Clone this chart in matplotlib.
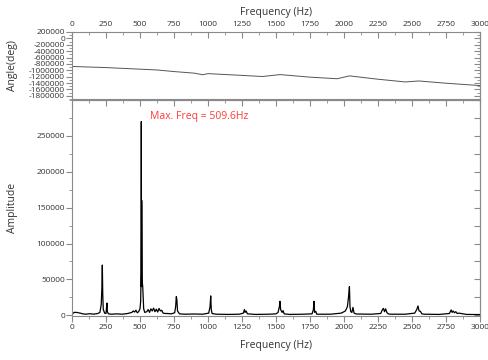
import matplotlib
matplotlib.use("Agg")
import matplotlib.pyplot as plt
from matplotlib.ticker import MultipleLocator, FuncFormatter, FixedLocator

# ---- phase (top panel) ----
phase_freq = [0, 250, 500, 625, 750, 900, 960, 1000, 1250, 1400, 1530, 1750, 1950, 2040, 2250, 2450, 2550, 2750, 3000]
phase_deg = [-880000, -915000, -965000, -990000, -1040000, -1090000, -1140000, -1105000, -1160000, -1195000,
             -1135000, -1215000, -1265000, -1175000, -1280000, -1365000, -1335000, -1405000, -1480000]

# ---- amplitude spectrum (bottom panel) ----
amp_freq = [0, 8, 20, 40, 60, 80, 100, 130, 160, 190, 205, 215, 220, 223, 226, 230, 240, 250, 255, 257, 260, 268,
            290, 330, 370, 410, 440, 450, 460, 470, 480, 490, 500, 505, 508, 509.6, 511, 512.5, 515, 520, 527, 535,
            550, 560, 570, 580, 590, 600, 610, 620, 630, 640, 650, 660, 670, 685,
            700, 730, 755, 762, 767, 771, 776, 790, 830, 900, 960, 1005, 1015, 1020, 1024, 1030, 1060, 1150, 1230,
            1260, 1268, 1273, 1280, 1290, 1350, 1450, 1500, 1515, 1525, 1529, 1534, 1545, 1552, 1560, 1600, 1700,
            1765, 1775, 1779, 1784, 1792, 1800, 1900, 1980, 2010, 2025, 2033, 2040, 2044, 2050, 2058, 2066, 2074,
            2090, 2200, 2270, 2283, 2290, 2298, 2306, 2315, 2325, 2340, 2450, 2520, 2535, 2544, 2552, 2562, 2572,
            2590, 2700, 2775, 2788, 2795, 2803, 2812, 2822, 2832, 2845, 2900, 3000]
amp_val = [500, 3000, 4200, 3800, 3000, 2000, 1500, 2200, 1600, 2500, 4000, 15000, 40000, 70000, 30000, 8000, 3000,
           2500, 12000, 17000, 5000, 2000,
           1500, 2000, 1500, 2500, 4000, 6000, 4500, 7000, 3500, 5000, 9000, 20000, 60000, 270000, 40000, 160000,
           50000, 40000, 9000, 4000,
           5000, 8000, 4000, 9000, 6000, 10000, 5000, 8500, 4500, 9500, 6000, 7000, 3000, 2500,
           2500, 2000, 3500, 12000, 26000, 22000, 6000, 2000, 1500, 1800, 1500, 3000, 12000, 27000, 8000, 2500,
           1500, 1200, 1500,
           3000, 8000, 4000, 6000, 2000, 1200, 1500, 2000, 4000, 12000, 19500, 8000, 4000, 6500, 2000, 1200, 1500,
           2000, 8000, 19500, 4000, 5500, 1500, 1500, 3000, 6000, 12000, 25000, 40000, 12000, 5000, 4000, 11000,
           3000,
           1800, 1500, 2500, 8000, 9500, 5000, 9000, 4000, 2000, 1500, 1500, 3000, 8000, 13000, 6000, 5500, 2000,
           1500, 1200, 2500, 7500, 4000, 6000, 3500, 5000, 2500, 3000, 1200, 1000]

peak_label = "Max. Freq = 509.6Hz"
x_ticks = [0, 250, 500, 750, 1000, 1250, 1500, 1750, 2000, 2250, 2500, 2750, 3000]
amp_ticks = [0, 50000, 100000, 150000, 200000, 250000]

plt.rcParams['font.family'] = ['Open Sans', 'DejaVu Sans']
frame_col = '#8a8a8a'
text_col = '#333333'

fig = plt.figure(figsize=(4.89, 3.6), dpi=100)
ax_top = fig.add_axes([72/489, 1 - 99/360, 408/489, 67/360])
ax_bot = fig.add_axes([72/489, 1 - 316/360, 408/489, 216/360])

for ax in (ax_top, ax_bot):
    for s in ax.spines.values():
        s.set_color(frame_col)
        s.set_linewidth(0.8)
    ax.set_xlim(0, 3000)
    ax.xaxis.set_major_locator(MultipleLocator(250))
    ax.xaxis.set_minor_locator(MultipleLocator(125))

# top panel
ax_top.plot(phase_freq, phase_deg, color='#555555', lw=0.7)
ax_top.set_ylim(-1900000, 200000)
ax_top.yaxis.set_major_locator(MultipleLocator(200000))
ax_top.yaxis.set_minor_locator(MultipleLocator(100000))
ax_top.tick_params(axis='x', which='both', top=True, bottom=False, labeltop=True, labelbottom=False,
                   direction='in', colors=frame_col, labelcolor=text_col, labelsize=6, pad=3)
ax_top.tick_params(axis='x', which='major', length=4)
ax_top.tick_params(axis='x', which='minor', length=2)
ax_top.tick_params(axis='y', which='both', left=True, right=False, direction='out', colors=frame_col,
                   labelcolor=text_col, labelsize=6, pad=1)
ax_top.tick_params(axis='y', which='major', length=4)
ax_top.tick_params(axis='y', which='minor', length=2.5)
ax_top.xaxis.set_label_position('top')
ax_top.set_xticks(x_ticks)
ax_top.set_xlabel('Frequency (Hz)', fontsize=7.5, color=text_col, labelpad=4)
ax_top.set_ylabel('Angle(deg)', fontsize=7.5, color=text_col)
ax_top.yaxis.set_label_coords(-0.133, 0.5)
ax_top.yaxis.set_major_formatter(FuncFormatter(lambda v, p: f"{int(round(v))}"))
ax_top_r = ax_top.secondary_yaxis('right')
ax_top_r.spines['right'].set_color(frame_col)
ax_top_r.yaxis.set_major_locator(MultipleLocator(200000))
ax_top_r.yaxis.set_minor_locator(MultipleLocator(100000))
ax_top_r.tick_params(axis='y', which='both', direction='in', colors=frame_col, labelright=False)
ax_top_r.tick_params(axis='y', which='major', length=4)
ax_top_r.tick_params(axis='y', which='minor', length=2.5)

# bottom panel
ax_bot.plot(amp_freq, amp_val, color='black', lw=0.9)
ax_bot.set_ylim(-1000, 300000)
ax_bot.yaxis.set_major_locator(FixedLocator(amp_ticks))
ax_bot.yaxis.set_minor_locator(MultipleLocator(25000))
ax_bot.set_xticks(x_ticks)
ax_bot.tick_params(axis='x', which='both', bottom=True, top=False, direction='out', colors=frame_col,
                   labelcolor=text_col, labelsize=6, pad=2)
ax_bot.tick_params(axis='x', which='major', length=4)
ax_bot.tick_params(axis='x', which='minor', length=2)
ax_bot.tick_params(axis='y', which='both', left=True, right=False, direction='out', colors=frame_col,
                   labelcolor=text_col, labelsize=6, pad=1)
ax_bot.tick_params(axis='y', which='major', length=4)
ax_bot.tick_params(axis='y', which='minor', length=2.5)
ax_bot_r = ax_bot.secondary_yaxis('right')
ax_bot_r.spines['right'].set_color(frame_col)
ax_bot_r.yaxis.set_major_locator(MultipleLocator(25000))
ax_bot_r.tick_params(axis='y', which='both', direction='in', colors=frame_col, labelright=False, length=4)
ax_bot_t = ax_bot.secondary_xaxis('top')
ax_bot_t.spines['top'].set_color(frame_col)
ax_bot_t.set_xticks(x_ticks)
ax_bot_t.xaxis.set_minor_locator(MultipleLocator(125))
ax_bot_t.tick_params(axis='x', which='both', direction='in', colors=frame_col, labeltop=False)
ax_bot_t.tick_params(axis='x', which='major', length=4)
ax_bot_t.tick_params(axis='x', which='minor', length=2)
ax_bot.set_xlabel('Frequency (Hz)', fontsize=7.5, color=text_col, labelpad=6)
ax_bot.set_ylabel('Amplitude', fontsize=7.5, color=text_col)
ax_bot.yaxis.set_label_coords(-0.133, 0.5)
ax_bot.text(575, 277000, peak_label, color='#ff3a3a', fontsize=7.5, va='center', ha='left')

fig.savefig('out.png', dpi=100)
